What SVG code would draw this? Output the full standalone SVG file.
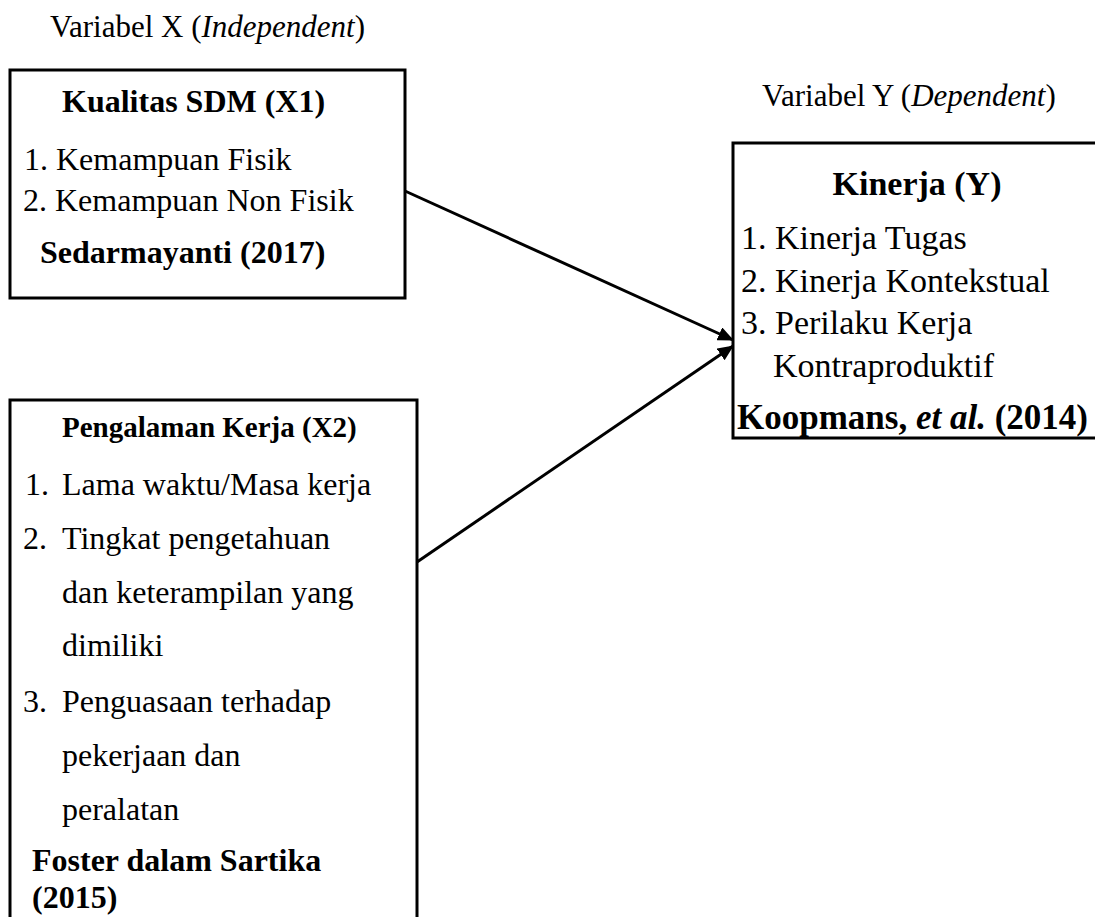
<svg xmlns="http://www.w3.org/2000/svg" width="1095" height="917" viewBox="0 0 1095 917">
<style>
text{font-family:"Liberation Serif","Times New Roman",serif;font-size:32px;fill:#000}
.b{font-weight:bold}
.y{font-size:34px}
.box{fill:#fff;stroke:#000;stroke-width:3}
.conn{stroke:#000;stroke-width:3;fill:none}
</style>
<defs>
<marker id="arr" markerUnits="userSpaceOnUse" markerWidth="16" markerHeight="14" refX="15" refY="7" orient="auto">
<path d="M0,0 L16,7 L0,14 z" fill="#000"/>
</marker>
</defs>
<rect width="1095" height="917" fill="#fff"/>
<text x="50" y="37" style="font-size:31px">Variabel X (<tspan font-style="italic">Independent</tspan>)</text>
<text x="762" y="106" style="font-size:31px">Variabel Y (<tspan font-style="italic">Dependent</tspan>)</text>
<g id="x1">
<rect class="box" x="10" y="70" width="395" height="228"/>
<text class="b" x="62" y="112">Kualitas SDM (X1)</text>
<text x="24" y="170">1. Kemampuan Fisik</text>
<text x="23" y="211">2. Kemampuan Non Fisik</text>
<text class="b" x="40" y="263">Sedarmayanti (2017)</text>
</g>
<g id="x2">
<rect class="box" x="10" y="400" width="407" height="540"/>
<text class="b" x="62" y="437" style="font-size:29px">Pengalaman Kerja (X2)</text>
<text x="25" y="495">1.</text><text x="62" y="495">Lama waktu/Masa kerja</text>
<text x="23" y="549">2.</text><text x="62" y="549">Tingkat pengetahuan</text>
<text x="62" y="603">dan keterampilan yang</text>
<text x="62" y="656">dimiliki</text>
<text x="23" y="712">3.</text><text x="62" y="712">Penguasaan terhadap</text>
<text x="62" y="766">pekerjaan dan</text>
<text x="62" y="820">peralatan</text>
<text class="b" x="32" y="871">Foster dalam Sartika</text>
<text class="b" x="32" y="908">(2015)</text>
</g>
<g id="y">
<rect class="box" x="733" y="143" width="380" height="295"/>
<text class="b y" x="917" y="195" text-anchor="middle">Kinerja (Y)</text>
<text class="y" x="741" y="249">1. Kinerja Tugas</text>
<text class="y" x="741" y="292">2. Kinerja Kontekstual</text>
<text class="y" x="741" y="334">3. Perilaku Kerja</text>
<text class="y" x="773" y="377">Kontraproduktif</text>
<text class="b" x="737" y="429" style="font-size:35px">Koopmans, <tspan font-style="italic">et al.</tspan> (2014)</text>
</g>
<g id="connectors">
<line class="conn" x1="405" y1="191" x2="733" y2="340" marker-end="url(#arr)"/>
<line class="conn" x1="417" y1="562" x2="733" y2="346" marker-end="url(#arr)"/>
</g>
</svg>
